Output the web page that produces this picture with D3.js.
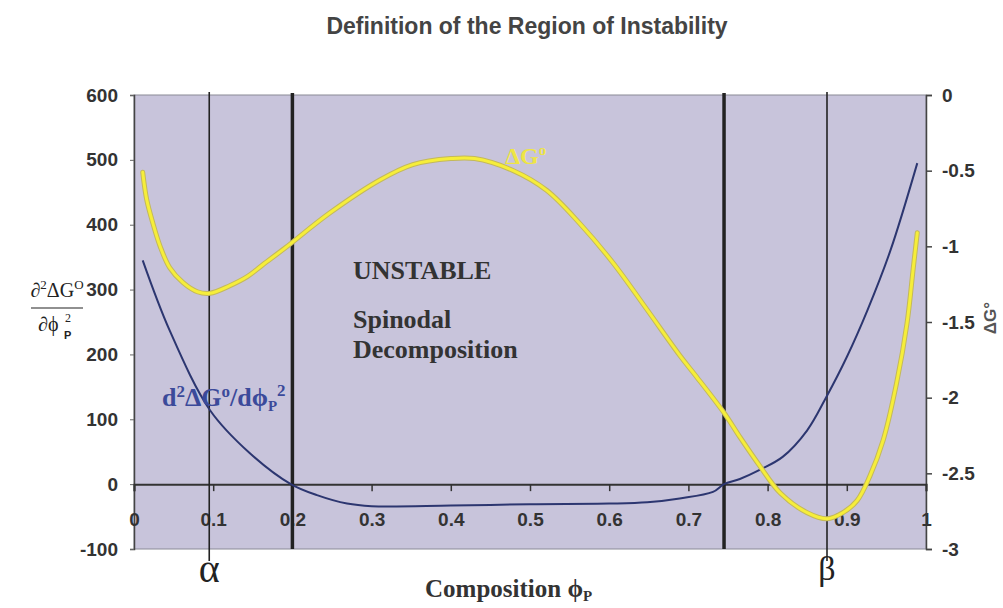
<!DOCTYPE html>
<html>
<head>
<meta charset="utf-8">
<script src="https://cdn.jsdelivr.net/npm/d3@7"></script>
<style>
  body { margin: 0; background: #fff; }
  svg { display: block; }
</style>
</head>
<body>
<svg id="chart" width="1003" height="608"></svg>
<script>
// ΔG° curve (right axis)
const phiG = [0.011, 0.016, 0.024, 0.033, 0.045, 0.062, 0.080, 0.096, 0.121, 0.143, 0.163, 0.191,
  0.247, 0.311, 0.352, 0.40, 0.43, 0.479, 0.521, 0.563, 0.605, 0.648, 0.689, 0.71, 0.745, 0.765,
  0.790, 0.816, 0.850, 0.875, 0.895, 0.913, 0.929, 0.946, 0.963, 0.976, 0.984, 0.989];
const deltaG = [-0.51, -0.69, -0.85, -1.00, -1.14, -1.24, -1.30, -1.31, -1.26, -1.20, -1.12, -1.01,
  -0.78, -0.56, -0.46, -0.42, -0.42, -0.50, -0.63, -0.85, -1.11, -1.42, -1.72, -1.86, -2.10, -2.26,
  -2.45, -2.63, -2.76, -2.80, -2.76, -2.68, -2.52, -2.28, -1.90, -1.51, -1.14, -0.91];

// second derivative curve (left axis)
const phiD = [0.011, 0.045, 0.096, 0.146, 0.198, 0.231, 0.269, 0.30, 0.40, 0.50, 0.60, 0.648, 0.689,
  0.731, 0.745, 0.765, 0.790, 0.819, 0.850, 0.874, 0.900, 0.926, 0.955, 0.989];
const d2G = [345, 237, 114, 48, 0, -17, -30, -34, -33, -31, -30, -28, -22,
  -12, 0, 8, 22, 42, 83, 134, 196, 268, 360, 495];

// vertical marker lines
const spinodal = [0.2, 0.745];
const binodal = [0.095, 0.875];

const xTicks = [0, 0.1, 0.2, 0.3, 0.4, 0.5, 0.6, 0.7, 0.8, 0.9, 1];
const xTickLabels = ["0", "0.1", "0.2", "0.3", "0.4", "0.5", "0.6", "0.7", "0.8", "0.9", "1"];
const leftTicks = [600, 500, 400, 300, 200, 100, 0, -100];
const leftTickLabels = ["600", "500", "400", "300", "200", "100", "0", "-100"];
const rightTicks = [0, -0.5, -1, -1.5, -2, -2.5, -3];
const rightTickLabels = ["0", "-0.5", "-1", "-1.5", "-2", "-2.5", "-3"];

const svg = d3.select("#chart");
const plotLeft = 134, plotRight = 926, plotTop = 95, plotBottom = 549;

const x = d3.scaleLinear().domain([0, 1]).range([plotLeft, plotRight]);
const yL = d3.scaleLinear().domain([-100, 600]).range([plotBottom, plotTop]);
const yR = d3.scaleLinear().domain([-3, 0]).range([plotBottom, plotTop]);

const sans = "'Liberation Sans', Arial, sans-serif";
const serif = "'Liberation Serif', 'Times New Roman', serif";

// title
svg.append("text")
  .attr("x", 527).attr("y", 34)
  .attr("text-anchor", "middle")
  .style("font-family", sans).style("font-weight", "bold")
  .style("font-size", "23px").style("fill", "#444")
  .text("Definition of the Region of Instability");

// plot background
svg.append("rect")
  .attr("x", plotLeft).attr("y", plotTop)
  .attr("width", plotRight - plotLeft).attr("height", plotBottom - plotTop)
  .attr("fill", "#c8c4db")
  .attr("stroke", "#8a8a96").attr("stroke-width", 1);

// left axis
const gL = svg.append("g")
  .attr("transform", `translate(${plotLeft},0)`)
  .call(d3.axisLeft(yL).tickValues(leftTicks)
    .tickFormat((d, i) => leftTickLabels[i]).tickSize(4).tickPadding(12));
gL.select(".domain").attr("stroke", "#444").attr("stroke-width", 1.5);
gL.selectAll(".tick line").attr("stroke", "#666");
gL.selectAll("text").style("font-family", sans).style("font-weight", "bold")
  .style("font-size", "19px").style("fill", "#333");

// right axis
const gR = svg.append("g")
  .attr("transform", `translate(${plotRight},0)`)
  .call(d3.axisRight(yR).tickValues(rightTicks)
    .tickFormat((d, i) => rightTickLabels[i]).tickSize(6).tickPadding(10));
gR.select(".domain").attr("stroke", "#444").attr("stroke-width", 1.5);
gR.selectAll(".tick line").attr("stroke", "#444").attr("stroke-width", 1.5);
gR.selectAll("text").style("font-family", sans).style("font-weight", "bold")
  .style("font-size", "19px").style("fill", "#333");

// x axis at zero of left scale
const gX = svg.append("g")
  .attr("transform", `translate(0,${yL(0)})`)
  .call(d3.axisBottom(x).tickValues(xTicks)
    .tickFormat((d, i) => xTickLabels[i]).tickSize(7).tickPadding(21));
gX.select(".domain").attr("stroke", "#333").attr("stroke-width", 2);
gX.selectAll(".tick line").attr("stroke", "#333").attr("stroke-width", 1.5);
gX.selectAll("text").style("font-family", sans).style("font-weight", "bold")
  .style("font-size", "19px").style("fill", "#333");

// vertical lines
svg.selectAll(".binodal").data(binodal).join("line")
  .attr("class", "binodal")
  .attr("x1", d => x(d)).attr("x2", d => x(d))
  .attr("y1", plotTop - 3).attr("y2", plotBottom + 12)
  .attr("stroke", "#222").attr("stroke-width", 1.6);
svg.selectAll(".spinodal").data(spinodal).join("line")
  .attr("class", "spinodal")
  .attr("x1", d => x(d)).attr("x2", d => x(d))
  .attr("y1", plotTop - 2).attr("y2", plotBottom)
  .attr("stroke", "#222").attr("stroke-width", 3.5);

// curves
const lineD = d3.line()
  .x((d, i) => x(phiD[i])).y(d => yL(d))
  .curve(d3.curveCatmullRom.alpha(0.5));
svg.append("path").datum(d2G)
  .attr("d", lineD).attr("fill", "none")
  .attr("stroke", "#2c3670").attr("stroke-width", 2);

const lineG = d3.line()
  .x((d, i) => x(phiG[i])).y(d => yR(d))
  .curve(d3.curveCatmullRom.alpha(0.5));
svg.append("path").datum(deltaG)
  .attr("d", lineG).attr("fill", "none")
  .attr("stroke", "#c4b95a").attr("stroke-width", 5).attr("stroke-linecap", "round");
svg.append("path").datum(deltaG)
  .attr("d", lineG).attr("fill", "none")
  .attr("stroke", "#f6ee3a").attr("stroke-width", 3).attr("stroke-linecap", "round");

// in-plot labels
svg.append("text")
  .attr("x", 505).attr("y", 164)
  .style("font-family", serif).style("font-weight", "bold")
  .style("font-size", "24px").style("fill", "#eee545")
  .text("ΔG")
  .append("tspan").attr("dy", -9).style("font-size", "15px").text("o");

const bodyText = [["UNSTABLE", 279], ["Spinodal", 328], ["Decomposition", 358]];
svg.selectAll(".body").data(bodyText).join("text")
  .attr("class", "body")
  .attr("x", 353).attr("y", d => d[1])
  .style("font-family", serif).style("font-weight", "bold")
  .style("font-size", "26px").style("fill", "#333")
  .text(d => d[0]);

const blueLab = svg.append("text")
  .attr("x", 162).attr("y", 406)
  .style("font-family", serif).style("font-weight", "bold")
  .style("font-size", "26px").style("fill", "#3b4a9a");
blueLab.append("tspan").text("d");
blueLab.append("tspan").attr("dy", -9).style("font-size", "17px").text("2");
blueLab.append("tspan").attr("dy", 9).text("ΔG");
blueLab.append("tspan").attr("dy", -9).style("font-size", "17px").text("o");
blueLab.append("tspan").attr("dy", 9).text("/dϕ");
blueLab.append("tspan").attr("dy", 5).style("font-size", "15px").text("P");
blueLab.append("tspan").attr("dy", -15).style("font-size", "17px").text("2");

// left axis title (fraction)
const num = svg.append("text")
  .attr("x", 57).attr("y", 297).attr("text-anchor", "middle")
  .style("font-family", serif).style("font-size", "20px").style("fill", "#222");
num.append("tspan").text("∂");
num.append("tspan").attr("dy", -8).style("font-size", "13px").text("2");
num.append("tspan").attr("dy", 8).text("ΔG");
num.append("tspan").attr("dy", -8).style("font-size", "13px").text("O");
svg.append("line")
  .attr("x1", 31).attr("x2", 83).attr("y1", 308).attr("y2", 308)
  .attr("stroke", "#222").attr("stroke-width", 1.2);
svg.append("text")
  .attr("x", 38).attr("y", 331)
  .style("font-family", serif).style("font-size", "20px").style("fill", "#222")
  .text("∂ϕ");
svg.append("text")
  .attr("x", 65).attr("y", 322)
  .style("font-family", serif).style("font-size", "12px").style("fill", "#222")
  .text("2");
svg.append("text")
  .attr("x", 64).attr("y", 339)
  .style("font-family", sans).style("font-weight", "bold")
  .style("font-size", "11px").style("fill", "#222")
  .text("P");

// right axis title
svg.append("text")
  .attr("transform", "translate(996,318) rotate(-90)")
  .attr("text-anchor", "middle")
  .style("font-family", sans).style("font-weight", "bold")
  .style("font-size", "17px").style("fill", "#555")
  .text("ΔG°");

// phase markers
svg.append("text")
  .attr("x", x(binodal[0])).attr("y", 582).attr("text-anchor", "middle")
  .style("font-family", serif).style("font-size", "40px").style("fill", "#222")
  .text("α");
svg.append("text")
  .attr("x", x(binodal[1])).attr("y", 580).attr("text-anchor", "middle")
  .style("font-family", serif).style("font-size", "34px").style("fill", "#222")
  .text("β");

// x axis title
const xt = svg.append("text")
  .attr("x", 425).attr("y", 597)
  .style("font-family", serif).style("font-weight", "bold")
  .style("font-size", "25px").style("fill", "#333");
xt.append("tspan").text("Composition ϕ");
xt.append("tspan").attr("dy", 4).style("font-size", "15px").text("P");
</script>
</body>
</html>
